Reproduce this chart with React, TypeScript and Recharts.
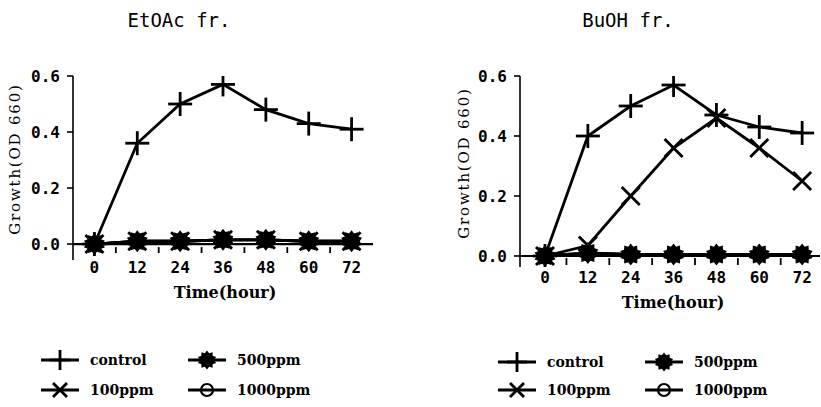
import React from "react";
import { LineChart, Line, XAxis, YAxis, ReferenceLine } from "recharts";

// sampling times (hour)
const hours = [0, 12, 24, 36, 48, 60, 72];
const hourTicks = [0, 12, 24, 36, 48, 60, 72];
const minorHourTicks = [6, 18, 30, 42, 54, 66];
const growthTicks = [0, 0.2, 0.4, 0.6];

// EtOAc fraction, growth (OD 660)
const etoacControl = [0, 0.36, 0.5, 0.57, 0.48, 0.43, 0.41];
const etoac100 = [0, 0.01, 0.01, 0.015, 0.015, 0.01, 0.01];
const etoac500 = [0, 0.01, 0.01, 0.015, 0.015, 0.01, 0.01];
const etoac1000 = [0, 0.01, 0.01, 0.015, 0.015, 0.01, 0.01];

// BuOH fraction, growth (OD 660)
const buohControl = [0, 0.4, 0.5, 0.57, 0.47, 0.43, 0.41];
const buoh100 = [0, 0.035, 0.2, 0.36, 0.46, 0.36, 0.25];
const buoh500 = [0, 0.01, 0.005, 0.005, 0.005, 0.005, 0.005];
const buoh1000 = [0, 0.01, 0.005, 0.005, 0.005, 0.005, 0.005];

const seriesNames = ["control", "100ppm", "500ppm", "1000ppm"];

const tickFont = "'DejaVu Sans Mono', monospace";
const serif = "'DejaVu Serif', serif";

const buildRows = (c: number[], a: number[], b: number[], d: number[]) =>
  hours.map((h, i) => ({ hour: h, control: c[i], p100: a[i], p500: b[i], p1000: d[i] }));

// markers; "size" is used instead of r because recharts passes its own r to dots
const PlusDot = ({ cx, cy, size = 12 }: any) => (
  <g stroke="#000" strokeWidth={2.8}>
    <line x1={cx - size} x2={cx + size} y1={cy} y2={cy} />
    <line x1={cx} x2={cx} y1={cy - size} y2={cy + size} />
  </g>
);

const CrossDot = ({ cx, cy, size = 9 }: any) => (
  <g stroke="#000" strokeWidth={2.8}>
    <line x1={cx - size} x2={cx + size} y1={cy - size} y2={cy + size} />
    <line x1={cx - size} x2={cx + size} y1={cy + size} y2={cy - size} />
  </g>
);

const BurstDot = ({ cx, cy, size = 11 }: any) => {
  const pts: string[] = [];
  const n = 10;
  for (let i = 0; i < n * 2; i++) {
    const rr = i % 2 === 0 ? size : size * 0.74;
    const a = (Math.PI * i) / n - Math.PI / 2;
    pts.push(`${cx + rr * Math.cos(a)},${cy + rr * Math.sin(a)}`);
  }
  return <polygon points={pts.join(" ")} fill="#000" />;
};

const CircleDot = ({ cx, cy, size = 7 }: any) => (
  <circle cx={cx} cy={cy} r={size} fill="none" stroke="#000" strokeWidth={2.2} />
);

const dots: Record<string, any> = {
  control: PlusDot,
  p100: CrossDot,
  p500: BurstDot,
  p1000: CircleDot,
};

interface PanelProps {
  rows: any[];
  left: number;
  width: number;
  margin: { top: number; right: number; bottom: number; left: number };
  xDomain: [number, number];
  yMin: number;
  labelDy: number;
  dash: [number, number];
}

function Panel({ rows, left, width, margin, xDomain, yMin, labelDy, dash }: PanelProps) {
  const renderTick = (p: any) => (
    <text x={p.x} y={p.y + labelDy} textAnchor="middle" dominantBaseline="central"
      fontFamily={tickFont} fontWeight="bold" fontSize={16} fill="#000">
      {p.payload.value}
    </text>
  );

  return (
    <div style={{ position: "absolute", left, top: 0 }}>
      <LineChart width={width} height={300} data={rows} margin={margin}>
        <XAxis dataKey="hour" type="number" domain={xDomain} ticks={hourTicks} interval={0}
          allowDataOverflow height={20} tickSize={0} tickMargin={0} tickLine={false}
          axisLine={false} tick={renderTick} />
        <YAxis type="number" domain={[yMin, 0.6]} ticks={growthTicks} width={60}
          allowDataOverflow tickSize={6} tickMargin={7}
          tickFormatter={(v: number) => v.toFixed(1)}
          axisLine={{ stroke: "#000", strokeWidth: 1.6 }}
          tickLine={{ stroke: "#000", strokeWidth: 1.6 }}
          tick={{ fill: "#000", fontFamily: tickFont, fontWeight: "bold", fontSize: 16 }} />
        <ReferenceLine y={0} stroke="#000" strokeWidth={2.2} />
        {/* small ticks between the hour labels, just under the zero line */}
        {minorHourTicks.map((h) => (
          <ReferenceLine key={h} segment={[{ x: h, y: dash[0] }, { x: h, y: dash[1] }]}
            stroke="#000" strokeWidth={1.8} />
        ))}
        {["control", "p100", "p500", "p1000"].map((k) => {
          const D = dots[k];
          return (
            <Line key={k} dataKey={k} type="linear" stroke="#000" strokeWidth={2.8}
              dot={<D />} activeDot={false} isAnimationActive={false} />
          );
        })}
      </LineChart>
    </div>
  );
}

const LegendIcon = ({ k }: { k: string }) => {
  const D = dots[k];
  const sizes: Record<string, number> = { control: 10, p100: 7, p500: 9.5, p1000: 6 };
  return (
    <svg width={40} height={24} style={{ display: "block" }}>
      <line x1={1} x2={39} y1={12} y2={12} stroke="#000" strokeWidth={2.8} />
      <D cx={20} cy={12} size={sizes[k]} />
    </svg>
  );
};

function Legend({ x1, x2, y1, y2 }: { x1: number; x2: number; y1: number; y2: number }) {
  const keys = ["control", "p100", "p500", "p1000"];
  const pos = [
    [x1, y1],
    [x1, y2],
    [x2, y1],
    [x2, y2],
  ];
  return (
    <>
      {keys.map((k, i) => (
        <div key={k} style={{ position: "absolute", left: pos[i][0] - 20, top: pos[i][1] - 12,
          display: "flex", alignItems: "center", height: 24 }}>
          <LegendIcon k={k} />
          <span style={{ marginLeft: 10, fontFamily: serif, fontWeight: "bold", fontSize: 14, color: "#000" }}>
            {seriesNames[i]}
          </span>
        </div>
      ))}
    </>
  );
}

const Txt = ({ x, y, children, style, rotate }: any) => (
  <div style={{ position: "absolute", left: x, top: y, whiteSpace: "nowrap", lineHeight: 1,
    transform: `translate(-50%, -50%)${rotate ? " rotate(-90deg)" : ""}`, color: "#000", ...style }}>
    {children}
  </div>
);

export default function App() {
  const etoacRows = buildRows(etoacControl, etoac100, etoac500, etoac1000);
  const buohRows = buildRows(buohControl, buoh100, buoh500, buoh1000);
  const titleStyle = { fontFamily: tickFont, fontSize: 19 };
  const axisTitle = { fontFamily: serif, fontWeight: "bold", fontSize: 16 };
  const yTitle = { fontFamily: serif, fontSize: 15, letterSpacing: 1.8 };

  return (
    <div style={{ position: "absolute", left: 0, top: 0, width: 821, height: 407,
      overflow: "hidden", background: "#fff" }}>
      <Panel rows={etoacRows} left={0} width={410}
        margin={{ top: 76, right: 37, bottom: 20, left: 13 }}
        xDomain={[-6, 78]} yMin={-0.057} labelDy={7} dash={[-0.011, -0.032]} />
      <Panel rows={buohRows} left={410} width={411}
        margin={{ top: 76, right: 1, bottom: 13, left: 50 }}
        xDomain={[-7, 77]} yMin={-0.0367} labelDy={10} dash={[-0.007, -0.03]} />

      <Txt x={179} y={20} style={titleStyle}>EtOAc fr.</Txt>
      <Txt x={628} y={20} style={titleStyle}>BuOH fr.</Txt>
      <Txt x={225} y={293} style={axisTitle}>Time(hour)</Txt>
      <Txt x={673} y={303} style={axisTitle}>Time(hour)</Txt>
      <Txt x={15} y={159} style={yTitle} rotate>Growth(OD 660)</Txt>
      <Txt x={464} y={163} style={yTitle} rotate>Growth(OD 660)</Txt>

      <Legend x1={60} x2={207} y1={360} y2={390} />
      <Legend x1={517} x2={664} y1={362} y2={390} />
    </div>
  );
}
